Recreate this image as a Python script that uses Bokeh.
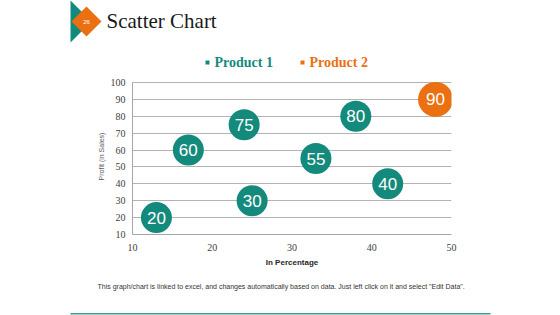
from bokeh.plotting import figure
from bokeh.models import Range1d, FixedTicker, ColumnDataSource
from bokeh.core.properties import value
from bokeh.embed import file_html
from bokeh.resources import INLINE

# Data
p1_x = [13, 17, 24, 25, 33, 38, 42]
p1_y = [20, 60, 75, 30, 55, 80, 40]
p2_x = [48]
p2_y = [90]
x_ticks = [10, 20, 30, 40, 50]
y_ticks = [10, 20, 30, 40, 50, 60, 70, 80, 90, 100]
series_names = ["Product 1", "Product 2"]
title_text = "Scatter Chart"
slide_no = "26"
footer_text = 'This graph/chart is linked to excel, and changes automatically based on data. Just left click on it and select "Edit Data".'

TEAL = "#148a7d"
ORANGE = "#eb7012"

W = 560
HEAD_H, MAIN_H, FOOT_H = 72, 198, 45
FL, FR = 132, 451
FT, FB = 82, 234          # pixel rows of y=100 and y=10
X0, X1, Y0, Y1 = 10, 50, 10, 100
FT2 = 76                  # frame top (a little above y=100 so top bubble fits)
Y1b = Y0 + (FB - FT2) * (Y1 - Y0) / (FB - FT)


def canvas_fig(h):
    f = figure(width=W, height=h, output_backend="svg", toolbar_location=None,
               x_range=Range1d(0, W), y_range=Range1d(h, 0),
               x_axis_type=None, y_axis_type=None,
               min_border=0, min_border_left=0, min_border_right=0,
               min_border_top=0, min_border_bottom=0)
    f.grid.visible = False
    f.outline_line_color = None
    f.background_fill_color = "white"
    f.border_fill_color = "white"
    return f


# ---------- header ----------
head = canvas_fig(HEAD_H)
head.patch([70, 91, 70], [0, 21, 42], fill_color=TEAL, line_color=None)
head.patch([86, 101, 86, 71], [6, 21, 36, 21], fill_color=ORANGE, line_color=None)
head.text([86], [21.5], text=[slide_no], text_color="white",
          text_font=value("Liberation Sans"), text_font_size="6px",
          text_align="center", text_baseline="middle")
head.text([106], [20], text=[title_text], text_color="#1a1a1a",
          text_font=value("Liberation Serif"), text_font_size="21px",
          text_align="left", text_baseline="middle")
head.scatter([207, 302], [62, 62], marker="square", size=4,
             fill_color=[TEAL, ORANGE], line_color=None)
head.text([214, 309], [62, 62], text=series_names, text_color=[TEAL, ORANGE],
          text_font=value("Liberation Serif"), text_font_style="bold",
          text_font_size="14px", text_align="left", text_baseline="middle")

# ---------- main chart ----------
p = figure(width=W, height=MAIN_H, output_backend="svg", toolbar_location=None,
           x_range=Range1d(X0, X1), y_range=Range1d(Y0, Y1b),
           min_border_left=FL, min_border_right=W - FR,
           min_border_top=FT2 - HEAD_H, min_border_bottom=HEAD_H + MAIN_H - FB)
p.outline_line_color = None
p.background_fill_color = "white"
p.border_fill_color = "white"

p.xgrid.grid_line_color = None
p.ygrid.grid_line_color = "#b3b3b3"
p.ygrid.grid_line_width = 1
p.xaxis.ticker = FixedTicker(ticks=x_ticks)
p.yaxis.ticker = FixedTicker(ticks=y_ticks)
p.yaxis.bounds = (Y0, Y1)
for ax in (p.xaxis[0], p.yaxis[0]):
    ax.major_tick_line_color = None
    ax.minor_tick_line_color = None
    ax.major_tick_out = 0
    ax.minor_tick_out = 0
    ax.axis_line_color = "#a6a6a6"
    ax.major_label_text_font = "Liberation Serif"
    ax.major_label_text_font_size = "10px"
    ax.major_label_text_color = "#404040"
p.yaxis.major_label_standoff = 7
p.xaxis.major_label_standoff = 9
p.xaxis.axis_label = "In Percentage"
p.xaxis.axis_label_text_font = "Liberation Sans"
p.xaxis.axis_label_text_font_style = "bold"
p.xaxis.axis_label_text_font_size = "8px"
p.xaxis.axis_label_text_color = "#262626"
p.xaxis.axis_label_standoff = 4
p.yaxis.axis_label = "Profit  (in Sales)"
p.yaxis.axis_label_text_font = "Liberation Sans"
p.yaxis.axis_label_text_font_style = "normal"
p.yaxis.axis_label_text_font_size = "7px"
p.yaxis.axis_label_text_color = "#595959"
p.yaxis.axis_label_standoff = 3

s1 = ColumnDataSource(dict(x=p1_x, y=p1_y, t=[str(v) for v in p1_y]))
s2 = ColumnDataSource(dict(x=p2_x, y=p2_y, t=[str(v) for v in p2_y]))
p.scatter("x", "y", source=s1, size=31, fill_color=TEAL, line_color=None)
p.scatter("x", "y", source=s2, size=35, fill_color=ORANGE, line_color=None)
for s in (s1, s2):
    p.text("x", "y", text="t", source=s, text_color="white",
           text_font=value("Liberation Sans"), text_font_size="17px",
           text_align="center", text_baseline="middle")

# ---------- footer ----------
foot = canvas_fig(FOOT_H)
foot.text([97], [16], text=[footer_text], text_color="#333333",
          text_font=value("Liberation Sans"), text_font_size="7px",
          text_align="left", text_baseline="middle")
foot.segment([70], [43.3], [490], [43.3], line_color="#3a9d91", line_width=1.5)

open("out.html", "w").write(file_html([head, p, foot], INLINE))
